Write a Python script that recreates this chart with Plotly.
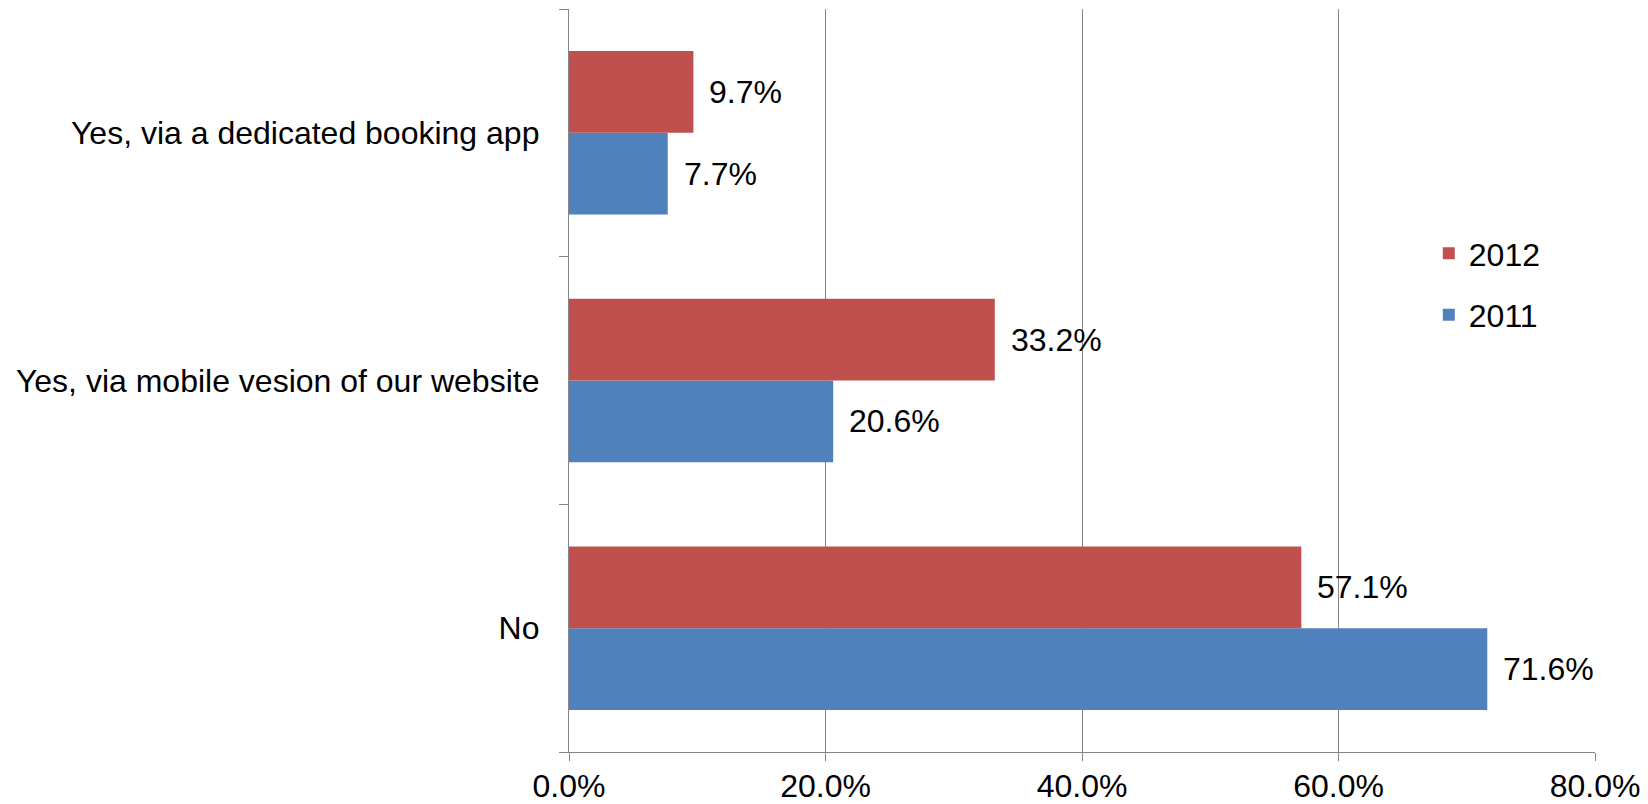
import plotly.graph_objects as go

categories = ["No", "Yes, via mobile vesion of our website", "Yes, via a dedicated booking app"]
values_2011 = [71.6, 20.6, 7.7]
values_2012 = [57.1, 33.2, 9.7]
x_ticks = [0, 20, 40, 60, 80]
x_tick_text = [f"{t:.1f}%" for t in x_ticks]

RED = "#C0504D"
BLUE = "#4F81BD"
GRID = "#868686"
FONT = "Liberation Sans, Arial, sans-serif"
FS = 32

fig = go.Figure()
fig.add_trace(go.Bar(y=categories, x=values_2011, name="2011", orientation="h",
                     legendgroup="g2011", legendrank=2,
                     marker=dict(color=BLUE, line=dict(width=0))))
fig.add_trace(go.Bar(y=categories, x=values_2012, name="2012", orientation="h",
                     legendgroup="g2012", legendrank=1,
                     marker=dict(color=RED, line=dict(width=0))))

# value labels just right of each bar end
for vals, off in ((values_2011, -0.165), (values_2012, 0.165)):
    for i, v in enumerate(vals):
        fig.add_annotation(x=v, y=i + off, xref="x", yref="y",
                           text=f"{v:.1f}%", showarrow=False,
                           xanchor="left", yanchor="middle", xshift=14,
                           font=dict(family=FONT, size=FS, color="#000000"))

fig.update_layout(
    width=1648, height=804,
    margin=dict(l=569, r=53, t=9, b=52),
    paper_bgcolor="white", plot_bgcolor="white",
    barmode="group", bargap=0.34, bargroupgap=0,
    font=dict(family=FONT, size=FS, color="#000000"),
    showlegend=True,
    legend=dict(traceorder="grouped", x=0.838, y=0.708, xanchor="left", yanchor="top",
                bgcolor="rgba(0,0,0,0)", font=dict(family=FONT, size=FS),
                itemwidth=30, tracegroupgap=17),
)
fig.update_xaxes(range=[0, 80], tickvals=x_ticks, ticktext=x_tick_text, automargin=False,
                 showgrid=True, gridcolor=GRID, gridwidth=1.3,
                 showline=True, linecolor=GRID, linewidth=1.3,
                 ticks="outside", ticklen=8, tickcolor=GRID, tickwidth=1.3,
                 ticklabelstandoff=-3,
                 zeroline=False, tickfont=dict(family=FONT, size=FS, color="#000000"))
fig.update_yaxes(range=[-0.5, 2.5], type="category", tickson="boundaries", automargin=False,
                 showgrid=False, showline=True, linecolor=GRID, linewidth=1.3,
                 ticks="outside", ticklen=9, tickcolor=GRID, tickwidth=1.3,
                 ticklabelstandoff=22,
                 tickfont=dict(family=FONT, size=FS, color="#000000"))

fig.write_html("out.html")
